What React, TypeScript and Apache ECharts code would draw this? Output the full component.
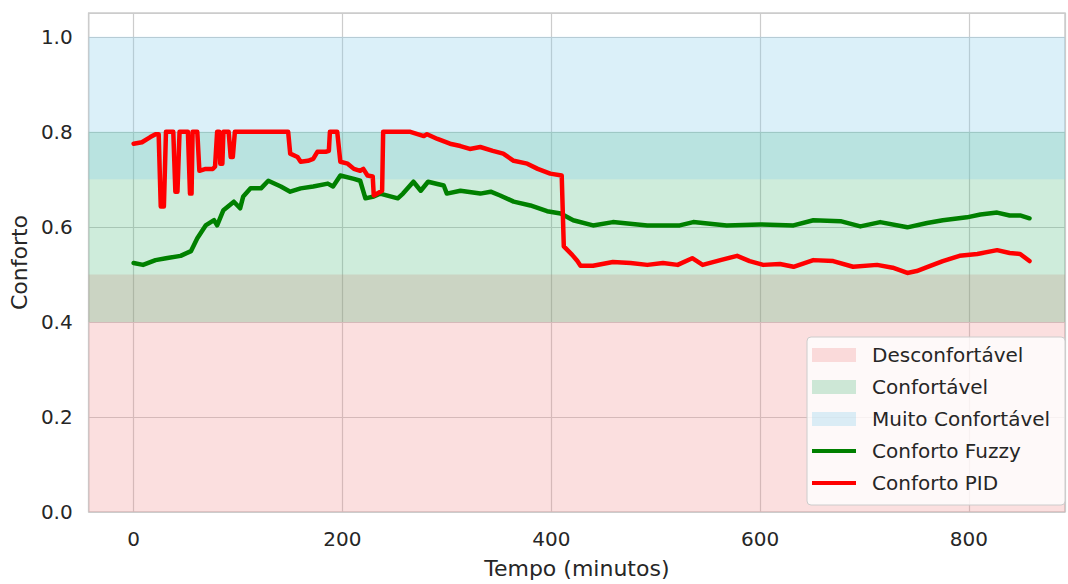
import React, { useEffect, useRef } from "react";
import * as echarts from "echarts";

const bandNames = ["Desconfortável", "Confortável", "Muito Confortável"];
const bandLower = [0, 0.4, 0.7];
const bandUpper = [0.5, 0.8, 1.0];
const bandColors = ["rgba(240,128,128,0.25)", "rgba(60,179,113,0.25)", "rgba(135,206,235,0.3)"];

const fuzzyName = "Conforto Fuzzy";
const fuzzyTime = [0, 9, 21, 31, 45, 55, 61, 69, 77, 80, 86, 96, 102, 105, 112, 122, 129, 141, 150, 160, 172, 186, 191, 198, 211, 217, 222, 230, 236, 253, 258, 268, 275, 282, 297, 300, 313, 332, 342, 351, 364, 380, 396, 409, 421, 440, 459, 492, 504, 523, 536, 568, 600, 632, 651, 677, 696, 715, 741, 760, 775, 798, 811, 827, 839, 849, 858];
const fuzzyValue = [0.524, 0.52, 0.53, 0.534, 0.539, 0.549, 0.576, 0.603, 0.614, 0.603, 0.635, 0.653, 0.639, 0.664, 0.681, 0.681, 0.697, 0.685, 0.674, 0.681, 0.685, 0.691, 0.685, 0.708, 0.701, 0.697, 0.66, 0.664, 0.67, 0.66, 0.67, 0.695, 0.676, 0.695, 0.687, 0.67, 0.676, 0.67, 0.674, 0.666, 0.653, 0.645, 0.633, 0.628, 0.614, 0.603, 0.61, 0.603, 0.603, 0.603, 0.61, 0.603, 0.605, 0.603, 0.614, 0.612, 0.601, 0.61, 0.599, 0.608, 0.614, 0.62, 0.626, 0.63, 0.624, 0.624, 0.618];

const pidName = "Conforto PID";
const pidTime = [0, 8, 16, 21, 24, 26, 29, 31, 38, 40, 42, 44, 52, 54, 55.5, 56.5, 61, 63, 69, 76, 78, 80, 82, 83, 85, 86, 91, 93, 95, 97, 148, 150, 157, 160, 167, 172, 176, 184, 187, 188, 195, 198, 205, 211, 217, 220, 224, 229, 230, 238, 239, 265, 278, 281, 291, 303, 313, 322, 332, 344, 354, 364, 377, 387, 399, 410, 412, 420, 425, 428, 440, 459, 476, 492, 507, 521, 535, 545, 562, 578, 590, 603, 619, 632, 651, 670, 689, 712, 727, 741, 750, 763, 775, 791, 808, 827, 839, 849, 858];
const pidValue = [0.775, 0.778, 0.789, 0.795, 0.795, 0.643, 0.643, 0.8, 0.8, 0.674, 0.674, 0.8, 0.8, 0.67, 0.67, 0.8, 0.8, 0.718, 0.722, 0.722, 0.727, 0.8, 0.8, 0.733, 0.733, 0.8, 0.8, 0.747, 0.747, 0.8, 0.8, 0.754, 0.747, 0.737, 0.739, 0.743, 0.758, 0.758, 0.76, 0.8, 0.8, 0.737, 0.733, 0.722, 0.718, 0.722, 0.708, 0.706, 0.666, 0.676, 0.8, 0.8, 0.791, 0.795, 0.785, 0.775, 0.77, 0.764, 0.768, 0.76, 0.754, 0.739, 0.733, 0.722, 0.712, 0.708, 0.559, 0.541, 0.528, 0.518, 0.518, 0.526, 0.524, 0.52, 0.524, 0.52, 0.534, 0.52, 0.53, 0.539, 0.528, 0.52, 0.522, 0.516, 0.53, 0.528, 0.516, 0.52, 0.514, 0.503, 0.507, 0.518, 0.528, 0.539, 0.543, 0.551, 0.545, 0.543, 0.528];

const xTicks = [0, 200, 400, 600, 800];
const yTicks = [0, 0.2, 0.4, 0.6, 0.8, 1.0];

const FONT = "DejaVu Sans";
const TXT = "#262626";
const LINE_ICON = "path://M0,0L0.01,0Z M0,5L44,5L44,9L0,9Z M0,14L0.01,14Z";

export default function App() {
  const ref = useRef<HTMLDivElement>(null);
  useEffect(() => {
    if (!ref.current) return;
    const chart = echarts.init(ref.current, null, { renderer: "svg" });
    const bandSeries = bandNames.map((name, i) => ({
      name,
      type: "line",
      data: [],
      z: 1,
      markArea: {
        silent: true,
        itemStyle: { color: bandColors[i] },
        data: [[{ yAxis: bandLower[i] }, { yAxis: bandUpper[i] }]],
      },
    }));
    chart.setOption({
      animation: false,
      backgroundColor: "#ffffff",
      textStyle: { fontFamily: FONT },
      grid: {
        left: 88,
        right: 3,
        top: 13,
        bottom: 68,
        show: true,
        borderColor: "#cccccc",
        borderWidth: 1.5,
        backgroundColor: "transparent",
      },
      legend: {
        orient: "vertical",
        left: 807,
        top: 337,
        padding: [8, 15, 12, 5],
        itemWidth: 44,
        itemHeight: 14,
        itemGap: 12,
        backgroundColor: "rgba(255,255,255,0.8)",
        borderColor: "#cccccc",
        borderWidth: 1,
        borderRadius: 4,
        textStyle: { fontFamily: FONT, fontSize: 20, color: TXT, lineHeight: 20, padding: [0, 0, 0, 11] },
        data: [
          ...bandNames.map((n, i) => ({ name: n, icon: "rect", itemStyle: { color: bandColors[i] } })),
          { name: fuzzyName, icon: LINE_ICON, itemStyle: { color: "#008000" } },
          { name: pidName, icon: LINE_ICON, itemStyle: { color: "#ff0000" } },
        ],
      },
      xAxis: {
        type: "value",
        min: -43,
        max: 892,
        splitNumber: 5,
        name: "Tempo (minutos)",
        nameLocation: "middle",
        nameGap: 45,
        nameTextStyle: { fontFamily: FONT, fontSize: 22, color: TXT },
        axisLine: { show: false },
        axisTick: { show: false },
        axisLabel: {
          fontFamily: FONT,
          fontSize: 20,
          color: TXT,
          margin: 17,
          showMinLabel: false,
          showMaxLabel: false,
          formatter: (v: number) => (xTicks.includes(v) ? String(v) : ""),
        },
        splitLine: { show: true, lineStyle: { color: "#cccccc", width: 1.2 } },
      },
      yAxis: {
        type: "value",
        min: 0,
        max: 1.05,
        interval: 0.2,
        name: "Conforto",
        nameLocation: "middle",
        nameGap: 56,
        nameTextStyle: { fontFamily: FONT, fontSize: 22, color: TXT },
        axisLine: { show: false },
        axisTick: { show: false },
        axisLabel: {
          fontFamily: FONT,
          fontSize: 20,
          color: TXT,
          margin: 16,
          showMaxLabel: false,
          formatter: (v: number) => {
            const t = yTicks.find((k) => Math.abs(k - v) < 1e-9);
            return t === undefined ? "" : t.toFixed(1);
          },
        },
        splitLine: { show: true, lineStyle: { color: "#cccccc", width: 1.2 } },
      },
      series: [
        ...bandSeries,
        {
          name: fuzzyName,
          type: "line",
          z: 3,
          symbol: "none",
          showSymbol: false,
          lineStyle: { color: "#008000", width: 4.5, cap: "round", join: "round" },
          itemStyle: { color: "#008000" },
          data: fuzzyTime.map((t, i) => [t, fuzzyValue[i]]),
        },
        {
          name: pidName,
          type: "line",
          z: 4,
          symbol: "none",
          showSymbol: false,
          lineStyle: { color: "#ff0000", width: 4.5, cap: "round", join: "round" },
          itemStyle: { color: "#ff0000" },
          data: pidTime.map((t, i) => [t, pidValue[i]]),
        },
      ],
    });
    return () => chart.dispose();
  }, []);
  return (
    <div
      ref={ref}
      style={{ position: "fixed", left: 0, top: 0, width: 1068, height: 584, background: "#fff" }}
    />
  );
}
